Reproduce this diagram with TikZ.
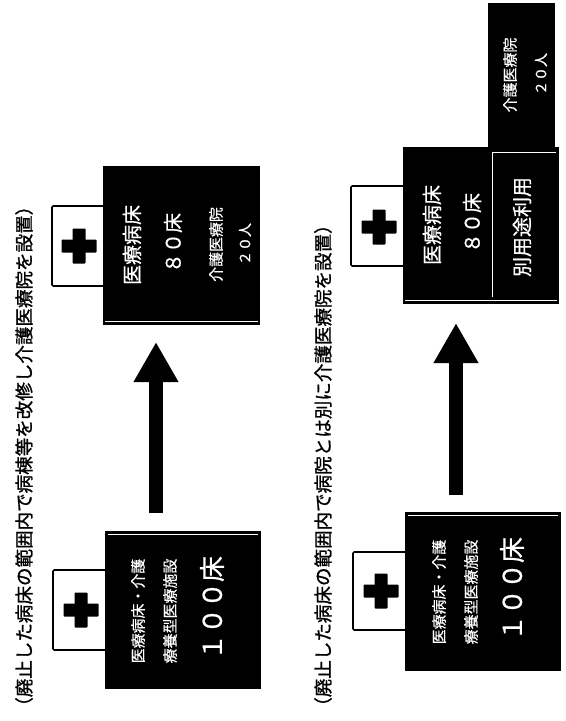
\documentclass[tikz,border=0pt]{standalone}
\usepackage{fontspec}
\setmainfont[FakeBold=0.7,AutoFakeBold=0.7]{Noto Sans CJK JP}
\newfontfamily\heavy[FakeBold=1.1]{Noto Sans CJK JP}
\newfontfamily\medium[FakeBold=0.5]{Noto Sans CJK JP}
\usetikzlibrary{arrows.meta}
\newcommand{\fs}[1]{\fontsize{#1}{#1}\selectfont}
\tikzset{
  x=0.75pt,y=-0.75pt,
  signbox/.style={draw=black,fill=white,line width=1.2pt,rounded corners=1pt},
  wt/.style={text=white,rotate=90,inner sep=0pt,font=\medium\fs{#1}},
  captiontext/.style={text=black,rotate=90,inner sep=0pt,font=\heavy\fs{13.9}},
  bigarrow/.style={-{Triangle[width=31.5pt,length=30pt]},line width=10.5pt,black},
  rim/.style={draw=white,line width=0.8pt},
}
\newcommand{\bx}[5]{%
  \path[draw=black,fill=black,line width=1pt] (#2,#3) rectangle (#4,#5) coordinate (#1);}
\newcommand{\sign}[4]{%
  \path[signbox] (#1,#2) rectangle (#3,#4);}
\newcommand{\crs}[2]{%
  \fill[black,rounded corners=0.6pt] (#1-17.5,#2-6.5) rectangle (#1+17.5,#2+6.5);
  \fill[black,rounded corners=0.6pt] (#1-6.5,#2-17.5) rectangle (#1+6.5,#2+17.5);}
\begin{document}
\begin{tikzpicture}
\useasboundingbox[fill=white] (0,0) rectangle (565,721);
% captions
\node[captiontext,anchor=west] (capA) at (24,716) {（廃止した病床の範囲内で病棟等を改修し介護医療院を設置）};
\node[captiontext,anchor=west] (capB) at (323,716) {（廃止した病床の範囲内で病院とは別に介護医療院を設置）};
% left column
\sign{53}{570}{106}{650}
\crs{81}{610}
\bx{ba1}{106}{532}{260}{688}
\draw[rim] (108,534.5) -- (258,534.5);
\node[wt=11.2] (ta1) at (138,611) {医療病床・介護};
\node[wt=11.2] (ta2) at (170,611) {療養型医療施設};
\node[wt=19.5] (ta3) at (212,608) {１００床};
\sign{52}{206}{104}{286}
\crs{79}{246}
\bx{ba2}{104}{167}{259}{324}
\draw[rim] (105,321.5) -- (258,321.5);
\node[wt=15] (tb1) at (132,245) {医療病床};
\node[wt=15] (tb2) at (173,243) {８０床};
\node[wt=11.2] (tb3) at (216,244.5) {介護医療院};
\node[wt=10.5] (tb4) at (245,244) {２０人};
\coordinate (afA) at (156,513);
\coordinate (atA) at (156,342);
\draw[bigarrow] (afA) -- (atA);
% right column
\sign{353}{552}{406}{630}
\crs{381}{591}
\bx{bc1}{406}{513}{560}{670}
\draw[rim] (408,515.5) -- (558,515.5);
\node[wt=11.2] (tc1) at (439,592) {医療病床・介護};
\node[wt=11.2] (tc2) at (471,592) {療養型医療施設};
\node[wt=19.5] (tc3) at (512,589) {１００床};
\sign{351}{186}{404}{266}
\crs{379}{227}
\bx{bd1}{404}{148}{558}{303}
\draw[rim] (405,300.5) -- (557,300.5);
\bx{be1}{489}{4}{554}{148}
\draw[white,line width=0.7pt] (492,297) -- (492,152) -- (556,152);
\node[wt=15] (td1) at (432,225) {医療病床};
\node[wt=15] (td2) at (472,223) {８０床};
\node[wt=15] (td3) at (522,227) {別用途利用};
\node[wt=11.2] (te1) at (510,75) {介護医療院};
\node[wt=10.5] (te2) at (541,74) {２０人};
\coordinate (afB) at (456,495);
\coordinate (atB) at (456,323);
\draw[bigarrow] (afB) -- (atB);
\end{tikzpicture}
\end{document}
